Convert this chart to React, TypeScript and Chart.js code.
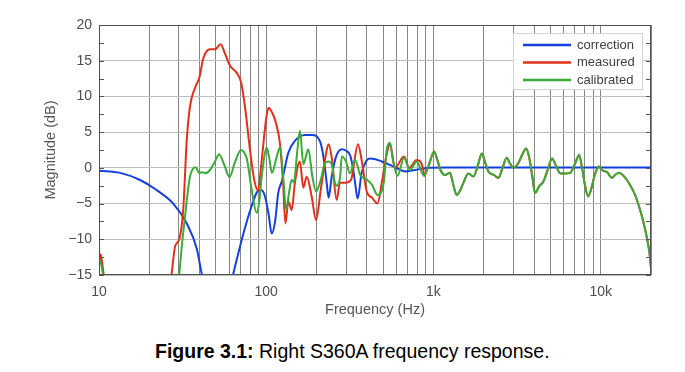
import React, { useEffect, useRef } from 'react';
import { Chart, registerables } from 'chart.js';

Chart.register(...registerables);

// ---------- data ----------
const seriesNames = ['correction', 'measured', 'calibrated'];

const correctionHz = [10, 13.4, 17.6, 22.1, 27.8, 33.5, 38.4, 41.1, 44.9, 50.8, 57.5, 63.6, 69.7, 75.7, 81.9, 88.1, 93.1, 98.4, 103.3, 107.9, 113, 118, 124.3, 135.6, 148.7, 170.7, 188, 209.8, 220, 230, 236, 246.6, 261, 283, 300, 317, 330, 340, 352, 372, 395, 418, 491, 589, 677, 776, 929, 1200, 2000, 5000, 10000, 20000];
const correctionDb = [-0.4, -0.7, -1.7, -3.1, -5.0, -7.8, -11.3, -14.8, -19, -22, -19.5, -14.8, -11, -7.9, -5.3, -3.4, -3.1, -4.0, -6.5, -9.2, -7.5, -3.5, -1.8, 2.1, 3.8, 4.6, 4.6, 3.7, 1.5, -2.1, -4.2, -1.2, 1.5, 2.6, 2.4, 1.8, 0, -2.1, -4.3, -0.7, 0.9, 1.3, 0.9, 0.1, -0.5, -0.3, 0, 0.05, 0.05, 0.05, 0.05, 0.05];

const measuredHz = [9.6, 10, 10.2, 10.4, 10.8, 13, 22, 27.2, 28.5, 30.2, 31.9, 33.5, 35.0, 37.5, 39.8, 42.0, 46.1, 49.4, 53.3, 56.7, 60.7, 66.6, 70.7, 74.7, 80.0, 84.5, 89.3, 94, 99.8, 103.3, 107, 113.7, 121, 126, 130.3, 135.6, 142, 148.6, 159, 166.7, 174.6, 187, 198.6, 211.8, 230, 236, 246.6, 263.8, 276, 296, 321, 354, 372, 399, 430, 463, 491, 521, 550, 589, 667, 715, 794, 871];
const measuredDb = [-16, -13.5, -12.1, -13, -16, -30, -30, -14.8, -11.0, -10.0, -5.8, 4.0, 8.6, 11.2, 12.6, 15.3, 16.6, 16.6, 17.3, 16.0, 14.3, 13.3, 12, 8.5, 2.5, -1.5, -3.2, 1.1, 6.8, 8.4, 8.0, 6.5, 3.3, -2, -7.8, -4.7, -5.9, -2.0, 0.9, -2.8, -1.2, -4.0, -7.3, -3.1, 2.5, 3.3, 1.4, -4.5, -2.1, -2.1, -1.7, 3.3, 1.1, -3.3, -4.2, -5.0, -2.1, 1.5, 3.3, 0.0, 1.6, 0, 1.1, -0.3];

const calibratedHz = [9.6, 9.95, 10.15, 10.4, 10.7, 13, 25, 29.7, 30.2, 31.4, 32.7, 34.1, 35.0, 36.5, 37.8, 39.8, 41.2, 43.5, 46.1, 49.4, 52.2, 56.4, 60.3, 65, 70.7, 73.6, 76.7, 81.9, 87.7, 90.5, 94.4, 100.7, 104, 108.3, 114.5, 121, 126, 131.9, 136.8, 142, 146.6, 152.8, 159.2, 166.7, 178.5, 188.7, 198.6, 211.8, 224.8, 236, 246.6, 261, 276, 283, 300, 317, 340, 365, 399, 430, 463, 505, 526, 550, 573, 610, 667, 724, 794, 879, 942, 1009, 1052, 1102, 1172, 1256, 1318, 1377, 1442, 1510, 1618, 1734, 1837, 1946, 2036, 2130, 2303, 2450, 2589, 2743, 2871, 3006, 3207, 3390, 3581, 3733, 3890, 4055, 4285, 4547, 4818, 5120, 5411, 5719, 6128, 6566, 7035, 7431, 7743, 8070, 8414, 8770, 9270, 9780, 10330, 10920, 11640, 12190, 12880, 13800, 15000, 16070, 17220, 18200, 18970, 19610, 20000];
const calibratedDb = [-16, -13.4, -13.0, -14, -16, -30, -30, -16, -14.8, -10.5, -6.8, -3, -1.2, -0.1, 0.1, -0.75, -0.6, -0.75, -0.3, 0.9, 1.9, 0.3, -1.3, 0.8, 2.5, 2.2, 1.2, -3.1, -6.3, -5.0, -0.8, 2.8, 1.5, -0.7, 1.2, 2.9, -1.0, -5.9, -3.5, -1.7, -2.0, 2.0, 5.2, 0.5, 2.6, -1.2, -3.3, -1.7, 0.7, 0.9, 0.5, -2.5, -1.5, 1.6, 0.9, -0.75, 1.1, -1.0, -1.6, -2.4, -3.8, -2.0, 2.6, 3.5, 1.0, -1.1, 1.4, -0.3, 0.9, -1.1, 0.5, 2.3, 1.2, -0.3, -1.0, -0.7, -2.5, -3.8, -3.2, -2.1, -0.8, -1.2, 0.2, 2.0, 0.8, -0.5, -1.0, -1.4, 0, 1.4, 0.6, 0, 0.6, 1.8, 2.7, 1.5, -1.0, -3.5, -2.6, -1.9, -0.3, 1.3, 0.3, -0.75, -0.8, -0.7, 0.6, 1.8, 0, -2.5, -4.0, -3.0, -0.8, 0.2, -0.4, -0.6, -1.4, -1.0, -0.7, -1.2, -2.4, -3.8, -5.9, -8.0, -10, -12, -14];

const xGridHz = [10, 20, 30, 40, 50, 60, 70, 80, 90, 100, 200, 300, 400, 500, 600, 700, 800, 900, 1000, 2000, 3000, 4000, 5000, 6000, 7000, 8000, 9000, 10000, 20000];
const xLabelHz = [10, 100, 1000, 10000];
const xLabelText = ['10', '100', '1k', '10k'];
const yTickDb = [-15, -10, -5, 0, 5, 10, 15, 20];
const yMinorDb = [-15, -12.5, -10, -7.5, -5, -2.5, 0, 2.5, 5, 7.5, 10, 12.5, 15, 17.5, 20];

// ---------- styles ----------
const FONT = '"Liberation Sans", Arial, Helvetica, sans-serif';
const seriesColors = ['#1440dc', '#e0301a', '#3aaa38'];

const decorPlugin = {
  id: 'decor',
  afterDatasetsDraw(chart: any) {
    const { ctx, chartArea: a } = chart;
    const w = 130, h = 57;
    const bx = a.right - 8 - w, by = a.top + 8;
    ctx.save();
    ctx.fillStyle = '#ffffff';
    ctx.fillRect(bx, by, w, h);
    ctx.strokeStyle = '#d4d4d4';
    ctx.lineWidth = 1;
    ctx.strokeRect(bx + 0.5, by + 0.5, w - 1, h - 1);
    seriesNames.forEach((name, i) => {
      const y = by + 12 + i * 17.5;
      ctx.strokeStyle = seriesColors[i];
      ctx.lineWidth = 2.5;
      ctx.beginPath();
      ctx.moveTo(bx + 10, y);
      ctx.lineTo(bx + 58, y);
      ctx.stroke();
      ctx.fillStyle = '#404040';
      ctx.font = '13px ' + FONT;
      ctx.textBaseline = 'middle';
      ctx.textAlign = 'left';
      ctx.fillText(name, bx + 64, y);
    });
    ctx.restore();
  },
  afterDraw(chart: any) {
    const { ctx, chartArea: a } = chart;
    const ys = chart.scales.y;
    ctx.save();
    ctx.strokeStyle = '#555555';
    ctx.lineWidth = 1;
    yMinorDb.forEach((v) => {
      const y = Math.round(ys.getPixelForValue(v)) + 0.5;
      ctx.beginPath();
      ctx.moveTo(a.left, y);
      ctx.lineTo(a.left + 5, y);
      ctx.moveTo(a.right - 5, y);
      ctx.lineTo(a.right, y);
      ctx.stroke();
    });
    ctx.strokeStyle = '#505050';
    ctx.strokeRect(Math.round(a.left) + 0.5, Math.round(a.top) + 0.5, Math.round(a.right - a.left) - 1, Math.round(a.bottom - a.top) - 1);
    ctx.restore();
  },
};

export default function App() {
  const ref = useRef<HTMLCanvasElement>(null);
  useEffect(() => {
    const canvas = ref.current!;
    Chart.defaults.font.family = FONT;
    const toPts = (xs: number[], ys: number[]) => xs.map((x, i) => ({ x, y: ys[i] }));
    const lastMeasured = measuredHz[measuredHz.length - 1];
    const measuredPts = [
      ...toPts(measuredHz, measuredDb),
      ...toPts(calibratedHz, calibratedDb).filter((p) => p.x > lastMeasured),
    ];
    const common = {
      borderWidth: 2,
      pointRadius: 0,
      fill: false,
      tension: 0.4,
      cubicInterpolationMode: 'monotone' as const,
      clip: 0,
    };
    const chart = new Chart(canvas, {
      type: 'line',
      data: {
        datasets: [
          { ...common, label: seriesNames[0], data: toPts(correctionHz, correctionDb), borderColor: seriesColors[0], order: 3 },
          { ...common, label: seriesNames[1], data: measuredPts, borderColor: seriesColors[1], order: 2 },
          { ...common, label: seriesNames[2], data: toPts(calibratedHz, calibratedDb), borderColor: seriesColors[2], order: 1 },
        ],
      },
      options: {
        responsive: false,
        animation: false,
        devicePixelRatio: 1,
        layout: { padding: { left: 0, right: 34, top: 25, bottom: 0 } },
        plugins: { legend: { display: false }, tooltip: { enabled: false } },
        scales: {
          x: {
            type: 'logarithmic',
            min: 10,
            max: 20000,
            afterBuildTicks: (s: any) => {
              s.ticks = xGridHz.map((v) => ({ value: v }));
            },
            afterFit: (s: any) => {
              s.height = 55;
            },
            ticks: {
              autoSkip: false,
              maxRotation: 0,
              minRotation: 0,
              padding: 9,
              color: '#4d4d4d',
              font: { size: 14 },
              callback: (v: any) => {
                const i = xLabelHz.indexOf(Number(v));
                return i >= 0 ? xLabelText[i] : '';
              },
            },
            grid: { color: '#858585', drawTicks: false, lineWidth: 1 },
            border: { display: false },
            title: { display: true, text: 'Frequency (Hz)', color: '#555555', font: { size: 14.5 }, padding: { top: 0, bottom: 11 } },
          },
          y: {
            type: 'linear',
            min: -15,
            max: 20,
            afterBuildTicks: (s: any) => {
              s.ticks = yTickDb.map((v) => ({ value: v }));
            },
            afterFit: (s: any) => {
              s.width = 99;
            },
            ticks: {
              padding: 7,
              color: '#4d4d4d',
              font: { size: 14 },
              callback: (v: any) => (Number(v) < 0 ? '\u2212' + Math.abs(Number(v)) : String(v)),
            },
            grid: { color: '#bdbdbd', drawTicks: false },
            border: { display: false },
            title: { display: true, text: 'Magnitude (dB)', color: '#555555', font: { size: 14.5 }, padding: { top: 42, bottom: 0 } },
          },
        },
      } as any,
      plugins: [decorPlugin],
    });
    return () => chart.destroy();
  }, []);

  return (
    <div style={{ position: 'fixed', left: 0, top: 0, width: 685, height: 372, background: '#ffffff', overflow: 'hidden' }}>
      <canvas ref={ref} width={685} height={330} style={{ position: 'absolute', left: 0, top: 0, width: 685, height: 330 }} />
      <div
        style={{
          position: 'absolute',
          left: 155,
          top: 341,
          fontFamily: FONT,
          fontSize: 19.5,
          lineHeight: '21px',
          color: '#000000',
          whiteSpace: 'nowrap',
        }}
      >
        <b>Figure 3.1:</b> Right S360A frequency response.
      </div>
    </div>
  );
}
